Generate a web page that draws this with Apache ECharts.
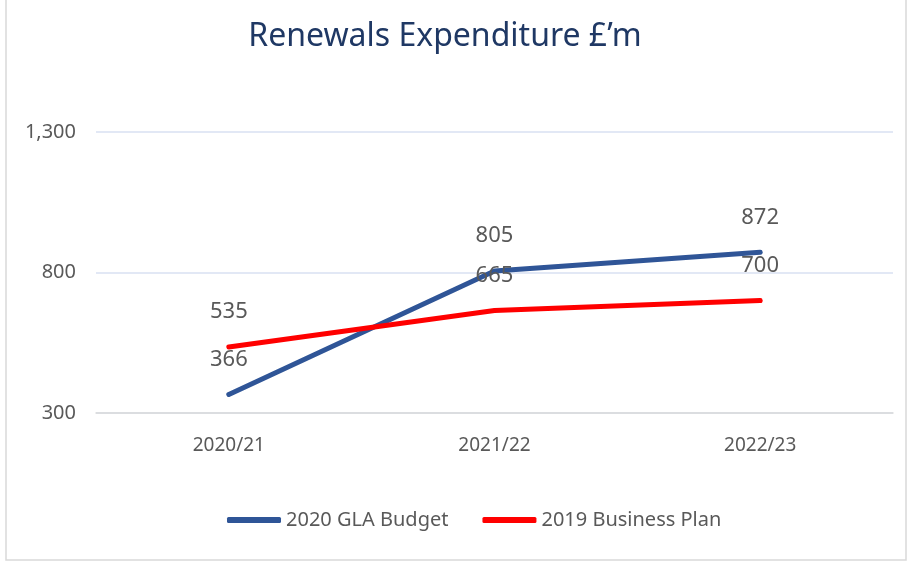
<!DOCTYPE html>
<html>
<head>
<meta charset="utf-8">
<style>
  html, body { margin: 0; padding: 0; background: #fff; }
  #chart { width: 909px; height: 562px; }
</style>
<script src="https://cdn.jsdelivr.net/npm/echarts@6/dist/echarts.min.js"></script>
</head>
<body>
<div id="chart"></div>
<script>
  const years = ['2020/21', '2021/22', '2022/23']
  const glaBudget = [366, 805, 872]
  const businessPlan = [535, 665, 700]
  const yTicks = [300, 800, 1300]

  const font = "'Noto Sans', 'DejaVu Sans', sans-serif"
  const grey = '#595959'

  const chart = echarts.init(document.getElementById('chart'))
  const valueLabel = { show: true, position: 'top', distance: 22, color: grey, fontSize: 22, fontFamily: font }
  const option = {
    backgroundColor: '#fff',
    textStyle: { fontFamily: font },
    title: {
      text: 'Renewals Expenditure £’m',
      left: 440,
      textAlign: 'center',
      top: 16,
      textStyle: { color: '#1F3864', fontSize: 32, fontWeight: 'normal', fontFamily: font }
    },
    graphic: [{
      type: 'rect',
      shape: { x: 6, y: -2, width: 900, height: 562 },
      style: { fill: 'none', stroke: '#D9D9D9', lineWidth: 1.5 },
      silent: true
    }],
    legend: {
      bottom: 27,
      left: 222,
      itemWidth: 54,
      itemHeight: 6,
      itemGap: 34,
      icon: 'roundRect',
      textStyle: { color: grey, fontSize: 20, fontFamily: font },
      data: ['2020 GLA Budget', '2019 Business Plan']
    },
    grid: { left: 96, right: 16, top: 132, bottom: 149 },
    xAxis: {
      type: 'category',
      data: years,
      boundaryGap: true,
      axisLine: { lineStyle: { color: '#D9D9D9', width: 1.5 } },
      axisTick: { lineStyle: { color: '#D9D9D9', width: 1.5 }, length: 8 },
      axisLabel: { color: grey, fontSize: 19, margin: 23, fontFamily: font }
    },
    yAxis: {
      type: 'value',
      min: yTicks[0],
      max: yTicks[yTicks.length - 1],
      interval: 500,
      axisLine: { show: false },
      axisTick: { show: false },
      splitLine: { lineStyle: { color: '#D9E1F2', width: 1.5 } },
      axisLabel: {
        color: grey, fontSize: 20, margin: 20, fontFamily: font,
        formatter: v => v.toLocaleString('en-GB')
      }
    },
    series: [{
      name: '2020 GLA Budget',
      type: 'line',
      data: glaBudget,
      symbol: 'circle',
      symbolSize: 4,
      color: '#2F5597',
      lineStyle: { width: 5, cap: 'round' },
      label: valueLabel
    }, {
      name: '2019 Business Plan',
      type: 'line',
      data: businessPlan,
      symbol: 'circle',
      symbolSize: 4,
      color: '#FF0000',
      lineStyle: { width: 5, cap: 'round' },
      label: valueLabel
    }]
  }
  chart.setOption(option)
</script>
</body>
</html>
